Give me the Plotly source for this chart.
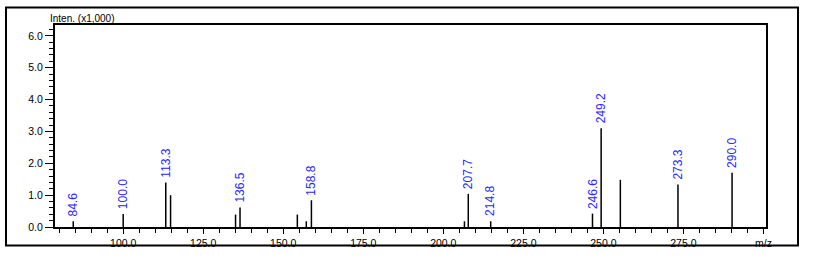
import plotly.graph_objects as go

# Peak data (m/z, intensity x1000)
mz = [84.4, 100.0, 113.3, 114.8, 135.1, 136.5, 154.4, 157.2, 158.8,
      206.6, 207.8, 214.8, 246.6, 249.3, 255.3, 273.3, 290.2]
intensity = [0.18, 0.41, 1.40, 1.00, 0.39, 0.61, 0.39, 0.18, 0.84,
             0.18, 1.04, 0.18, 0.42, 3.10, 1.48, 1.33, 1.70]
labels = ["84.6", "100.0", "113.3", "", "", "136.5", "", "", "158.8",
          "", "207.7", "214.8", "246.6", "249.2", "", "273.3", "290.0"]

x_tickvals = [100, 125, 150, 175, 200, 225, 250, 275, 300]
x_ticktext = ["100.0", "125.0", "150.0", "175.0", "200.0", "225.0", "250.0", "275.0", "m/z"]
y_tickvals = [0, 1, 2, 3, 4, 5, 6]
y_ticktext = ["0.0", "1.0", "2.0", "3.0", "4.0", "5.0", "6.0"]

xs, ys = [], []
for m, h in zip(mz, intensity):
    xs += [m, m, None]
    ys += [0, h, None]

fig = go.Figure()
fig.add_trace(go.Scatter(x=xs, y=ys, mode="lines",
                         line=dict(color="black", width=1.5),
                         hoverinfo="skip", showlegend=False))

for m, h, t in zip(mz, intensity, labels):
    if t:
        fig.add_annotation(x=m, y=h, text=t, textangle=-90, showarrow=False,
                           xanchor="center", yanchor="bottom", yshift=3,
                           font=dict(family="Liberation Sans, Arial", size=12, color="#2828ff"))

fig.add_annotation(xref="paper", yref="paper", x=0, y=1, xshift=-7,
                   text="Inten. (x1,000)", showarrow=False,
                   xanchor="left", yanchor="bottom", yshift=-1,
                   font=dict(family="Liberation Sans, Arial", size=10, color="black"))

# outer frame
fig.add_shape(type="rect", xref="paper", yref="paper",
              x0=(6 - 55) / 711, x1=(798 - 55) / 711,
              y0=(233 - 252) / 208, y1=(233 - 7) / 208,
              line=dict(color="black", width=2), layer="above")

fig.update_layout(
    width=822, height=261,
    margin=dict(l=55, r=56, t=25, b=28),
    paper_bgcolor="white", plot_bgcolor="white",
    font=dict(family="Liberation Sans, Arial", size=10, color="black"),
    xaxis=dict(range=[78.7, 300.8], tickvals=x_tickvals, ticktext=x_ticktext,
               ticks="outside", ticklen=5, tickwidth=1, tickcolor="black",
               showline=True, linecolor="black", linewidth=2, mirror=True,
               showgrid=False, zeroline=False,
               minor=dict(dtick=5, tick0=0, ticks="outside", ticklen=4,
                          tickcolor="black", showgrid=False),
               tickfont=dict(size=10.5)),
    yaxis=dict(range=[0, 6.34], tickvals=y_tickvals, ticktext=y_ticktext,
               ticks="outside", ticklen=8, tickwidth=1, tickcolor="black",
               showline=True, linecolor="black", linewidth=2, mirror=True,
               showgrid=False, zeroline=False,
               minor=dict(dtick=0.2, tick0=0, ticks="outside", ticklen=4,
                          tickcolor="black", showgrid=False),
               tickfont=dict(size=10.5)),
)

fig.write_html("out.html")
